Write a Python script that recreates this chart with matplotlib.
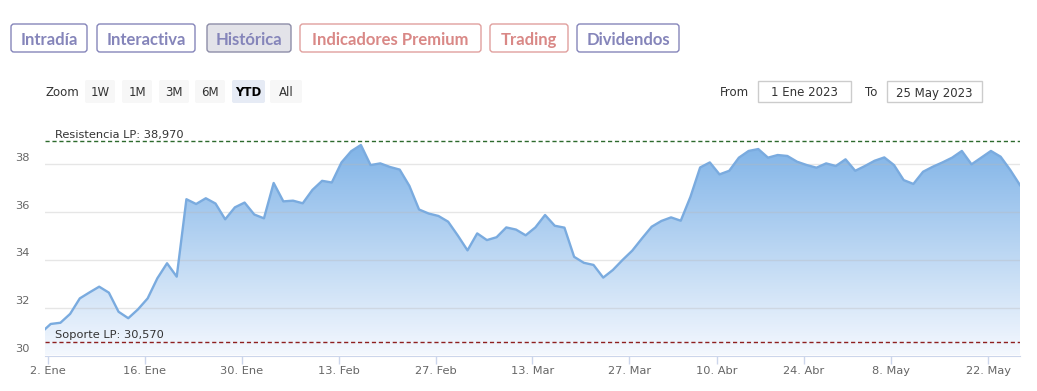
import numpy as np
import pandas as pd
import matplotlib
matplotlib.use("Agg")
import matplotlib.pyplot as plt
import matplotlib.transforms as mtransforms
from matplotlib.patches import FancyBboxPatch
from matplotlib.colors import LinearSegmentedColormap

# -----------------------------
# DATOS
# -----------------------------
# días de mercado 2023 (sin festivos)
festivos = ["2023-04-07", "2023-04-10", "2023-05-01"]
fechas = pd.bdate_range("2023-01-02", "2023-05-25")
fechas = fechas[~fechas.isin(pd.to_datetime(festivos))]

cierre_previo = 30.95  # 30 Dic 2022, fuera del rango visible
cierres = [
    31.32, 31.37, 31.74, 32.39, 32.64, 32.88, 32.63, 31.83, 31.56, 31.93,
    32.39, 33.23, 33.86, 33.30, 36.54, 36.34, 36.58, 36.36, 35.70, 36.20,
    36.40, 35.90, 35.74, 37.22, 36.45, 36.48, 36.37, 36.93, 37.31, 37.24,
    38.08, 38.55, 38.81, 37.97, 38.04, 37.89, 37.78, 37.10, 36.11, 35.94,
    35.84, 35.60, 35.02, 34.40, 35.11, 34.83, 34.95, 35.36, 35.27, 35.03,
    35.36, 35.88, 35.43, 35.35, 34.13, 33.88, 33.79, 33.26, 33.58, 34.00,
    34.39, 34.90, 35.39, 35.63, 35.78, 35.64, 36.64, 37.87, 38.08, 37.58,
    37.73, 38.28, 38.56, 38.64, 38.28, 38.39, 38.35, 38.11, 37.97, 37.86,
    38.04, 37.93, 38.21, 37.73, 37.93, 38.15, 38.29, 37.97, 37.34, 37.18,
    37.69, 37.90, 38.08, 38.28, 38.56, 38.00, 38.28, 38.56, 38.32, 37.76,
    37.13,
]

tick_fechas = ["2023-01-02", "2023-01-16", "2023-01-30", "2023-02-13", "2023-02-27",
               "2023-03-13", "2023-03-27", "2023-04-10", "2023-04-24", "2023-05-08",
               "2023-05-22"]
tick_etiquetas = ["2. Ene", "16. Ene", "30. Ene", "13. Feb", "27. Feb", "13. Mar",
                  "27. Mar", "10. Abr", "24. Abr", "8. May", "22. May"]
y_ticks = [30, 32, 34, 36, 38]

resistencia = 38.97
soporte = 30.57

botones_top = ["Intradía", "Interactiva", "Histórica", "Indicadores Premium", "Trading", "Dividendos"]
botones_zoom = ["1W", "1M", "3M", "6M", "YTD", "All"]
desde = "1 Ene 2023"
hasta = "25 May 2023"

# -----------------------------
# FIGURA
# -----------------------------
W, H = 1037, 391
fig = plt.figure(figsize=(W / 100, H / 100), dpi=100)
fig.patch.set_facecolor("white")

y_min, y_max = 30, 39.5
ax = fig.add_axes([45 / W, (H - 355.5) / H, (1020 - 45) / W, (355.5 - 128.5) / H])
ax.set_facecolor("none")

x = np.arange(len(fechas))
x_all = np.r_[-1, x]
y_all = np.r_[cierre_previo, cierres]

# relleno con degradado
poly = ax.fill_between(x_all, y_all, y_min, color="none", lw=0)
cmap = LinearSegmentedColormap.from_list("g", ["#f4f8fe", "#78afe6"])
grad = np.linspace(0, 1, 256).reshape(-1, 1)
im = ax.imshow(grad, extent=[-1, len(fechas), y_min, y_max], origin="lower",
               aspect="auto", cmap=cmap, zorder=1)
im.set_clip_path(poly.get_paths()[0], transform=ax.transData)

ax.plot(x_all, y_all, color="#7aabdf", lw=1.7, zorder=3, solid_joinstyle="round")

# rejilla
for v in y_ticks[1:]:
    ax.axhline(v, color="#b8b8b8", alpha=0.35, lw=1, zorder=2)

# líneas de soporte / resistencia
ax.axhline(resistencia, color="#2d6a2d", ls=(0, (3, 2)), lw=1, zorder=4)
ax.axhline(soporte, color="#8e1f1f", ls=(0, (3, 2)), lw=1, zorder=4)
bl = mtransforms.blended_transform_factory(ax.transAxes, ax.transData)
tr_lbl = mtransforms.offset_copy(bl, fig=fig, y=1.5, units="dots")
ax.text(10 / 975, resistencia, "Resistencia LP: 38,970", transform=tr_lbl,
        ha="left", va="bottom", fontsize=8.2, color="#333333", zorder=5)
ax.text(10 / 975, soporte, "Soporte LP: 30,570", transform=tr_lbl,
        ha="left", va="bottom", fontsize=8.2, color="#333333", zorder=5)

# ejes
ax.set_xlim(-0.59, len(fechas) - 1)
ax.set_ylim(y_min, y_max)
for s in ["top", "right", "left"]:
    ax.spines[s].set_visible(False)
ax.spines["bottom"].set_color("#ccd6eb")
ax.set_yticks([])
tick_pos = fechas.searchsorted(pd.to_datetime(tick_fechas)) - 0.3
ax.set_xticks(tick_pos, tick_etiquetas)
ax.tick_params(axis="x", length=6, width=1, color="#ccd6eb", labelcolor="#666666",
               labelsize=8.2, pad=1.5)

tr_y = mtransforms.offset_copy(bl, fig=fig, y=6.5, units="dots")
for v in y_ticks:
    ax.text(-15 / 975, v, str(v), transform=tr_y, ha="right", va="center",
            fontsize=8.2, color="#666666")

# -----------------------------
# CONTROLES (botones, zoom, fechas)
# -----------------------------
ui = fig.add_axes([0, 0, 1, 1])
ui.set_xlim(0, W)
ui.set_ylim(H, 0)
ui.axis("off")

morado = "#8585ba"
salmon = "#d98886"
pos_top = [(11, 76), (97, 98), (207, 84), (300, 181), (490, 78), (577, 102)]
colores_top = [morado, morado, morado, salmon, salmon, morado]
for txt, (x0, w), c in zip(botones_top, pos_top, colores_top):
    fondo = "#e3e3e9" if txt == "Histórica" else "white"
    borde = "#8d8da8" if txt == "Histórica" else (c if c == morado else "#e0a09e")
    ui.add_patch(FancyBboxPatch((x0, 24), w, 28, boxstyle="round,pad=0,rounding_size=3",
                                fc=fondo, ec=borde, lw=1))
    ui.text(x0 + w / 2, 38.5, txt, ha="center", va="center_baseline", fontsize=12,
            color=c, family="Lato", weight="bold")

fuente_ctrl = ["Liberation Sans Narrow", "DejaVu Sans"]
ui.text(45, 91.5, "Zoom", ha="left", va="center_baseline", fontsize=8.5, color="#333333",
        family=fuente_ctrl)
pos_zoom = [(85, 30), (122, 30), (159, 30), (195, 30), (232, 33), (270, 32)]
for txt, (x0, w) in zip(botones_zoom, pos_zoom):
    sel = txt == "YTD"
    ui.add_patch(FancyBboxPatch((x0, 80), w, 23, boxstyle="round,pad=0,rounding_size=2",
                                fc="#e6ebf5" if sel else "#f7f7f7", ec="none"))
    ui.text(x0 + w / 2, 91.5, txt, ha="center", va="center_baseline", fontsize=8.5,
            color="#000000" if sel else "#333333", weight="bold" if sel else "normal",
            family=fuente_ctrl)

ui.text(749, 91.5, "From", ha="right", va="center_baseline", fontsize=8.5, color="#333333",
        family=fuente_ctrl)
ui.add_patch(FancyBboxPatch((758, 81), 93, 21, boxstyle="square,pad=0",
                            fc="white", ec="#cccccc", lw=1))
ui.text(804.5, 91.5, desde, ha="center", va="center_baseline", fontsize=8.5, color="#333333",
        family=fuente_ctrl)
ui.text(877, 91.5, "To", ha="right", va="center_baseline", fontsize=8.5, color="#333333",
        family=fuente_ctrl)
ui.add_patch(FancyBboxPatch((887, 81), 95, 21, boxstyle="square,pad=0",
                            fc="white", ec="#cccccc", lw=1))
ui.text(934.5, 91.5, hasta, ha="center", va="center_baseline", fontsize=8.5, color="#333333",
        family=fuente_ctrl)

fig.savefig("out.png", dpi=100)
